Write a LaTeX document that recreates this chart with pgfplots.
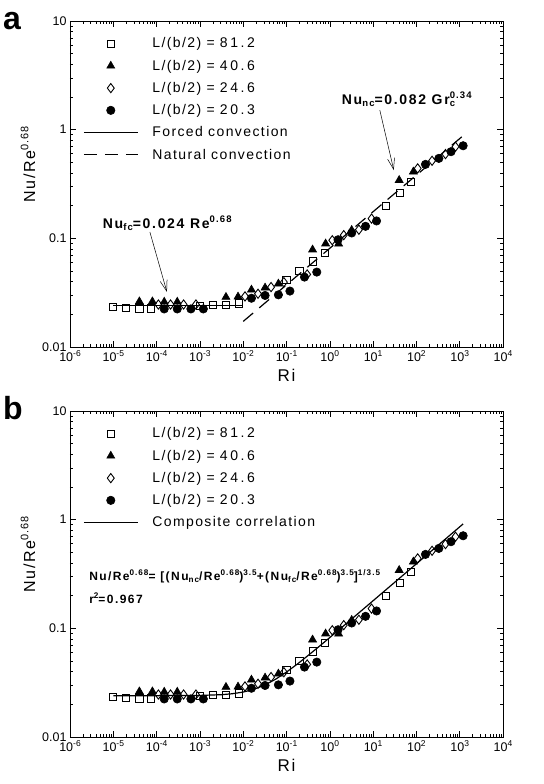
\documentclass[border=0pt]{standalone}
\usepackage{fontspec}
\setmainfont{Liberation Sans}
\newfontfamily\spaced[LetterSpace=10]{Liberation Sans}
\newfontfamily\spacedw[LetterSpace=18]{Liberation Sans}
\newfontfamily\spacedb[LetterSpace=12]{Liberation Sans}
\usepackage{pgfplots}
\usepackage{pgfplotstable}
\pgfplotsset{compat=1.18}
\usetikzlibrary{arrows.meta}

% super- and subscripts scaled to the current font size
\makeatletter
\newcommand\upr[1]{{\dimen@=\f@size\p@ \dimen@=0.68\dimen@ \edef\tmpsz{\strip@pt\dimen@}%
  \raisebox{0.42em}{\fontsize{\tmpsz}{\tmpsz}\selectfont #1}}}
\newcommand\dnr[1]{{\dimen@=\f@size\p@ \dimen@=0.68\dimen@ \edef\tmpsz{\strip@pt\dimen@}%
  \raisebox{-0.2em}{\fontsize{\tmpsz}{\tmpsz}\selectfont #1}}}
\makeatother

% L/(b/2) = 81.2
\pgfplotstableread{
x y
1e-5 0.0232
2e-5 0.0229
4e-5 0.0226
7.5e-5 0.0226
1e-3 0.0240
2e-3 0.0243
4e-3 0.0243
8e-3 0.0252
0.1 0.0415
0.2 0.050
0.41 0.0613
0.78 0.0738
20 0.199
41 0.262
76 0.331
}\dsq
% L/(b/2) = 40.6
\pgfplotstableread{
x y
4e-5 0.0262
8e-5 0.0262
1.5e-4 0.0260
3e-4 0.0260
4e-3 0.0288
7.6e-3 0.0290
1.55e-2 0.0336
3.2e-2 0.0351
6.5e-2 0.0382
0.4 0.0786
0.8 0.0893
1.6 0.0890
3.2 0.119
40 0.343
85 0.410
}\dtr
% L/(b/2) = 24.6
\pgfplotstableread{
x y
1.1e-4 0.0246
2.1e-4 0.0246
4.2e-4 0.0246
8.1e-4 0.0246
1.1e-2 0.0292
2.2e-2 0.0309
4.4e-2 0.0356
8.7e-2 0.0395
0.3 0.0465
1.14 0.096
2.1 0.107
4.7 0.120
9.2 0.152
107 0.44
230 0.517
470 0.596
800 0.697
}\ddi
% L/(b/2) = 20.3
\pgfplotstableread{
x y
1.5e-4 0.0224
3e-4 0.0224
6.2e-4 0.0224
1.2e-3 0.0224
1.55e-2 0.0281
3.2e-2 0.0298
6.5e-2 0.0302
0.12 0.0327
0.26 0.044
0.5 0.0489
1.55 0.097
3.2 0.112
6.7 0.129
12 0.1445
162 0.479
330 0.544
630 0.627
1200 0.711
}\dci
% composite correlation
\pgfplotstableread{
x y
1e-5 0.0240
1e-4 0.02401
1e-3 0.02414
3.16e-3 0.02452
5.62e-3 0.02501
1e-2 0.02591
1.78e-2 0.0275
3.16e-2 0.0301
5.62e-2 0.03405
1e-1 0.0396
1.78e-1 0.0469
3.16e-1 0.0563
5.62e-1 0.0679
1 0.0823
1.78 0.0999
3.16 0.1214
10 0.1795
100 0.3925
1000 0.8588
1200 0.9137
}\dcomp

\tikzset{
  myann/.style={anchor=base west, inner sep=0pt, font=\spacedb\bfseries\fontsize{14bp}{16bp}\selectfont},
  myeq/.style={anchor=base west, inner sep=0pt, font=\spacedb\bfseries\fontsize{12bp}{14bp}\selectfont},
  myarrow/.style={line width=0.5bp, -{Straight Barb[length=11bp,width=7bp]}},
}

\begin{document}
\begin{tikzpicture}[x=1bp,y=1bp]
\useasboundingbox (0,0) rectangle (544,784);

% ---- panel a ----
\begin{axis}[at={(70bp,437bp)}, anchor=south west,
    xmode=log, ymode=log,
    width=433bp, height=326bp, scale only axis,
    xmin=1e-6, xmax=1e4, ymin=0.01, ymax=10,
    xtick={1e-6,1e-5,1e-4,1e-3,1e-2,1e-1,1,10,100,1000,10000},
    xticklabels={10\upr{-6},10\upr{-5},10\upr{-4},10\upr{-3},10\upr{-2},10\upr{-1},10\upr{0},10\upr{1},10\upr{2},10\upr{3},10\upr{4}},
    ytick={0.01,0.1,1,10},
    yticklabels={0.01,0.1,1,10},
    minor xtick={2e-6,3e-6,4e-6,5e-6,6e-6,7e-6,8e-6,9e-6,
      2e-5,3e-5,4e-5,5e-5,6e-5,7e-5,8e-5,9e-5,
      2e-4,3e-4,4e-4,5e-4,6e-4,7e-4,8e-4,9e-4,
      2e-3,3e-3,4e-3,5e-3,6e-3,7e-3,8e-3,9e-3,
      2e-2,3e-2,4e-2,5e-2,6e-2,7e-2,8e-2,9e-2,
      0.2,0.3,0.4,0.5,0.6,0.7,0.8,0.9,
      2,3,4,5,6,7,8,9,
      20,30,40,50,60,70,80,90,
      200,300,400,500,600,700,800,900,
      2000,3000,4000,5000,6000,7000,8000,9000},
    minor ytick={0.02,0.03,0.04,0.05,0.06,0.07,0.08,0.09,
      0.2,0.3,0.4,0.5,0.6,0.7,0.8,0.9,
      2,3,4,5,6,7,8,9},
    tick align=inside,
    major tick length=6bp, minor tick length=3bp,
    tick style={black, line width=0.6bp},
    axis line style={line width=0.9bp},
    ticklabel style={font=\fontsize{12.5bp}{14bp}\selectfont},
    xlabel={Ri}, ylabel={Nu/Re\upr{0.68}},
    xlabel style={font=\spaced\fontsize{17bp}{19bp}\selectfont, yshift=-1bp},
    ylabel style={font=\spaced\fontsize{16bp}{18bp}\selectfont, at={(ticklabel cs:0.56)}},
    legend style={draw=none, fill=none, at={(0.03,0.955)}, anchor=north west,
      inner sep=0pt, row sep=6.6bp,
      font=\spaced\fontsize{14bp}{16bp}\selectfont},
    /tikz/every odd column/.append style={column sep=12bp},
    legend cell align=left,
    legend image code/.code={\draw[mark repeat=2,mark phase=2,#1] plot coordinates {(0bp,0bp) (27bp,0bp) (54bp,0bp)};},
  ]
\addplot[only marks, mark=square, mark size=3.6bp, mark options={fill=white, line width=0.9bp}] table[x=x,y=y] {\dsq};
\addlegendentry{L/(b/2) = {\spacedw 81.2}}
\addplot[only marks, mark=triangle*, mark size=4.6bp, mark options={fill=black, line width=0.6bp}] table[x=x,y=y] {\dtr};
\addlegendentry{L/(b/2) = {\spacedw 40.6}}
\addplot[only marks, mark=diamond, mark size=4.6bp, mark options={fill=white, line width=0.9bp}] table[x=x,y=y] {\ddi};
\addlegendentry{L/(b/2) = {\spacedw 24.6}}
\addplot[only marks, mark=*, mark size=4.2bp, mark options={fill=black, line width=0.6bp}] table[x=x,y=y] {\dci};
\addlegendentry{L/(b/2) = {\spacedw 20.3}}
\addplot[line width=1.2bp] coordinates {(1e-5,0.024) (1e-2,0.024)};
\addlegendentry{\vphantom{(}Forced convection}
\addplot[line width=1.2bp, dash pattern=on 13bp off 8bp] coordinates {(1e-2,0.0172) (1200,0.88)};
\addlegendentry{\vphantom{(}Natural convection}
\node[myann] at (axis cs:5.7e-6,0.124) {Nu\dnr{fc}=0.024 Re\upr{0.68}};
\draw[myarrow] (axis cs:7.0e-5,0.1143) -- (axis cs:1.73e-4,0.0321);
\node[myann] at (axis cs:1.89,1.72) {Nu\dnr{nc}=0.082 Gr\rlap{\dnr{c}}\upr{0.34}};
\draw[myarrow] (axis cs:14.3,1.51) -- (axis cs:30,0.425);
\end{axis}

% ---- panel b ----
\begin{axis}[at={(70bp,47bp)}, anchor=south west,
    xmode=log, ymode=log,
    width=433bp, height=326bp, scale only axis,
    xmin=1e-6, xmax=1e4, ymin=0.01, ymax=10,
    xtick={1e-6,1e-5,1e-4,1e-3,1e-2,1e-1,1,10,100,1000,10000},
    xticklabels={10\upr{-6},10\upr{-5},10\upr{-4},10\upr{-3},10\upr{-2},10\upr{-1},10\upr{0},10\upr{1},10\upr{2},10\upr{3},10\upr{4}},
    ytick={0.01,0.1,1,10},
    yticklabels={0.01,0.1,1,10},
    minor xtick={2e-6,3e-6,4e-6,5e-6,6e-6,7e-6,8e-6,9e-6,
      2e-5,3e-5,4e-5,5e-5,6e-5,7e-5,8e-5,9e-5,
      2e-4,3e-4,4e-4,5e-4,6e-4,7e-4,8e-4,9e-4,
      2e-3,3e-3,4e-3,5e-3,6e-3,7e-3,8e-3,9e-3,
      2e-2,3e-2,4e-2,5e-2,6e-2,7e-2,8e-2,9e-2,
      0.2,0.3,0.4,0.5,0.6,0.7,0.8,0.9,
      2,3,4,5,6,7,8,9,
      20,30,40,50,60,70,80,90,
      200,300,400,500,600,700,800,900,
      2000,3000,4000,5000,6000,7000,8000,9000},
    minor ytick={0.02,0.03,0.04,0.05,0.06,0.07,0.08,0.09,
      0.2,0.3,0.4,0.5,0.6,0.7,0.8,0.9,
      2,3,4,5,6,7,8,9},
    tick align=inside,
    major tick length=6bp, minor tick length=3bp,
    tick style={black, line width=0.6bp},
    axis line style={line width=0.9bp},
    ticklabel style={font=\fontsize{12.5bp}{14bp}\selectfont},
    xlabel={Ri}, ylabel={Nu/Re\upr{0.68}},
    xlabel style={font=\spaced\fontsize{17bp}{19bp}\selectfont, yshift=-1bp},
    ylabel style={font=\spaced\fontsize{16bp}{18bp}\selectfont, at={(ticklabel cs:0.56)}},
    legend style={draw=none, fill=none, at={(0.03,0.955)}, anchor=north west,
      inner sep=0pt, row sep=6.6bp,
      font=\spaced\fontsize{14bp}{16bp}\selectfont},
    /tikz/every odd column/.append style={column sep=12bp},
    legend cell align=left,
    legend image code/.code={\draw[mark repeat=2,mark phase=2,#1] plot coordinates {(0bp,0bp) (27bp,0bp) (54bp,0bp)};},
  ]
\addplot[only marks, mark=square, mark size=3.6bp, mark options={fill=white, line width=0.9bp}] table[x=x,y=y] {\dsq};
\addlegendentry{L/(b/2) = {\spacedw 81.2}}
\addplot[only marks, mark=triangle*, mark size=4.6bp, mark options={fill=black, line width=0.6bp}] table[x=x,y=y] {\dtr};
\addlegendentry{L/(b/2) = {\spacedw 40.6}}
\addplot[only marks, mark=diamond, mark size=4.6bp, mark options={fill=white, line width=0.9bp}] table[x=x,y=y] {\ddi};
\addlegendentry{L/(b/2) = {\spacedw 24.6}}
\addplot[only marks, mark=*, mark size=4.2bp, mark options={fill=black, line width=0.6bp}] table[x=x,y=y] {\dci};
\addlegendentry{L/(b/2) = {\spacedw 20.3}}
\addplot[line width=1.2bp] table[x=x,y=y] {\dcomp};
\addlegendentry{\vphantom{(}Composite correlation}
\node[myeq] at (rel axis cs:0.044,0.48)
  {Nu/Re\upr{0.68}= [(Nu\dnr{nc}/Re\upr{0.68})\upr{3.5}+(Nu\dnr{fc}/Re\upr{0.68})\upr{3.5}]\upr{1/3.5}};
\node[myeq] at (rel axis cs:0.044,0.41)
  {r\upr{2}=0.967};
\end{axis}

\node[anchor=base west, inner sep=0pt, font=\bfseries\fontsize{32bp}{34bp}\selectfont] at (3bp,754bp) {a};
\node[anchor=base west, inner sep=0pt, font=\bfseries\fontsize{32bp}{34bp}\selectfont] at (3bp,364bp) {b};
\end{tikzpicture}
\end{document}
